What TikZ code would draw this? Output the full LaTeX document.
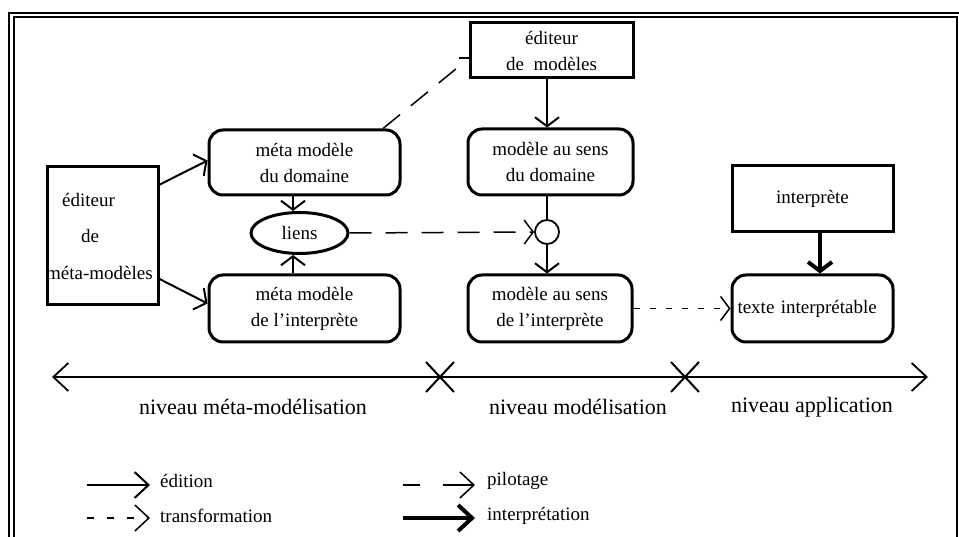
\documentclass[tikz,border=0pt]{standalone}
\usepackage{fontspec}
\setmainfont{Liberation Serif}
\usetikzlibrary{arrows.meta,shapes.geometric,shapes.misc,calc}
\begin{document}
\begin{tikzpicture}[x=1pt,y=-1pt,
  boxtxt/.style={font=\fontsize{19}{26}\selectfont, align=center},
  sqbox/.style={draw, line width=3pt, inner sep=0pt, boxtxt},
  rbox/.style={draw, line width=3pt, rounded corners=14pt, inner sep=0pt, boxtxt},
  headtip/.style={-{Straight Barb[length=9pt,width=24pt]}},
  edit/.style={line width=2pt, headtip},
  pilot/.style={line width=1.5pt, dash pattern=on 22pt off 14pt, headtip},
  transf/.style={line width=1.5pt, dash pattern=on 6pt off 10pt, headtip},
  interpline/.style={line width=4pt, -{Straight Barb[length=9pt,width=24pt]}},
  leghead/.style={-{Straight Barb[length=14pt,width=26pt]}},
  lvl/.style={font=\fontsize{22}{26}\selectfont},
  legtxt/.style={font=\fontsize{19}{24}\selectfont, anchor=west, inner sep=0pt},
  crossmark/.style={draw, cross out, line width=2pt, minimum width=26pt, minimum height=28pt, inner sep=0pt},
]
\useasboundingbox (0,0) rectangle (959,537);
% frame
\draw[line width=1.8pt] (9,540) -- (9,13) -- (960,13);
\draw[line width=1.3pt] (14,540) -- (14,17) -- (957,17) -- (957,540);

% nodes
\node[sqbox, minimum width=111pt, minimum height=138pt] (emm) at (102.5,236) {};
\node[boxtxt, anchor=west, inner sep=0pt] (emm1) at (62,200) {éditeur};
\node[boxtxt, anchor=west, inner sep=0pt] (emm2) at (81,236) {de};
\node[boxtxt, anchor=west, inner sep=0pt] (emm3) at (46,273) {méta-modèles};

\node[sqbox, minimum width=163pt, minimum height=55pt] (em) at (551.5,50.5) {éditeur\\ de\ \ modèles};
\node[rbox, minimum width=191pt, minimum height=65pt] (mmd) at (304.5,162.5) {méta modèle\\du domaine};
\node[draw, ellipse, line width=3pt, minimum width=97pt, minimum height=41pt, inner sep=0pt, boxtxt] (liens) at (299.5,233) {liens};
\node[rbox, minimum width=191pt, minimum height=67pt] (mmi) at (304.5,308.5) {méta modèle\\de l'interprète};
\node[rbox, minimum width=165pt, minimum height=66pt] (msd) at (550.5,162) {modèle au sens\\du domaine};
\node[draw, circle, line width=1.8pt, minimum size=24pt, inner sep=0pt] (circ) at (547,232) {};
\node[rbox, minimum width=164pt, minimum height=67pt] (msi) at (550,308.5) {modèle au sens\\de l'interprète};
\node[sqbox, minimum width=161pt, minimum height=66pt] (ip) at (812.5,199) {interprète};
\node[rbox, minimum width=161pt, minimum height=67pt, text width=150pt, align=left] (tx) at (812.5,308.5) {texte interprétable};

% connectors
\draw[edit] (emm.42.6) -- ($(mmd.west)+(0,-2)$);
\draw[edit] (emm.-37) -- ($(mmi.west)+(0,-5)$);
\draw[edit] ($(mmd.south)+(-11.5,0)$) coordinate (a1) -- (a1 |- liens.north);
\draw[edit] ($(mmi.north)+(-11.5,0)$) coordinate (a2) -- (a2 |- liens.south);
\draw[pilot] (liens.east) -- (circ.west);
\coordinate (pm) at (462,64);
\draw[line width=1.5pt, dash pattern=on 22pt off 14pt] ($(mmd.north)+(78.5,0)$) -- (pm);
\draw[line width=1.8pt] ($(em.west)+(-10,7.5)$) -- ($(em.west)+(0,7.5)$);
\draw[edit] (em.south -| circ.center) -- (msd.north -| circ.center);
\draw[line width=2pt] (msd.south -| circ.center) -- (circ.north);
\draw[edit] (circ.south) -- (msi.north -| circ.center);
\draw[transf] (msi.east) -- (tx.west);
\draw[interpline] ($(ip.south)+(7.5,0)$) coordinate (a3) -- (a3 |- tx.north);

% axis
\coordinate (axL) at (52,377);
\coordinate (axR) at (928,377);
\draw[line width=1.8pt, {Straight Barb[length=15pt,width=28pt]}-{Straight Barb[length=15pt,width=28pt]}] (axL) -- (axR);
\node[crossmark] (xa) at (440,377) {};
\node[crossmark] (xb) at (685,377) {};
\node[lvl] (l1) at (253,407) {niveau méta-modélisation};
\node[lvl] (l2) at (578,407) {niveau modélisation};
\node[lvl] (l3) at (812,407) {niveau application};

% legend
\coordinate (e0) at (87,485); \coordinate (e1) at (150,485);
\draw[line width=2pt, leghead] (e0) -- (e1);
\node[legtxt] (et) at (160,481) {édition};
\coordinate (t0) at (87,518); \coordinate (t1) at (150,518);
\draw[line width=1.5pt, dash pattern=on 7pt off 13pt, leghead] (t0) -- (t1);
\node[legtxt] (tt) at (160,516) {transformation};
\coordinate (p0) at (403,485); \coordinate (p1) at (475,485);
\draw[line width=1.5pt, dash pattern=on 17pt off 23pt on 60pt off 1pt, leghead] (p0) -- (p1);
\node[legtxt] (pt) at (487,481) {pilotage};
\coordinate (i0) at (403,518); \coordinate (i1) at (475,518);
\draw[line width=4pt, leghead] (i0) -- (i1);
\node[legtxt] (it) at (487,516) {interprétation};
\end{tikzpicture}
\end{document}
